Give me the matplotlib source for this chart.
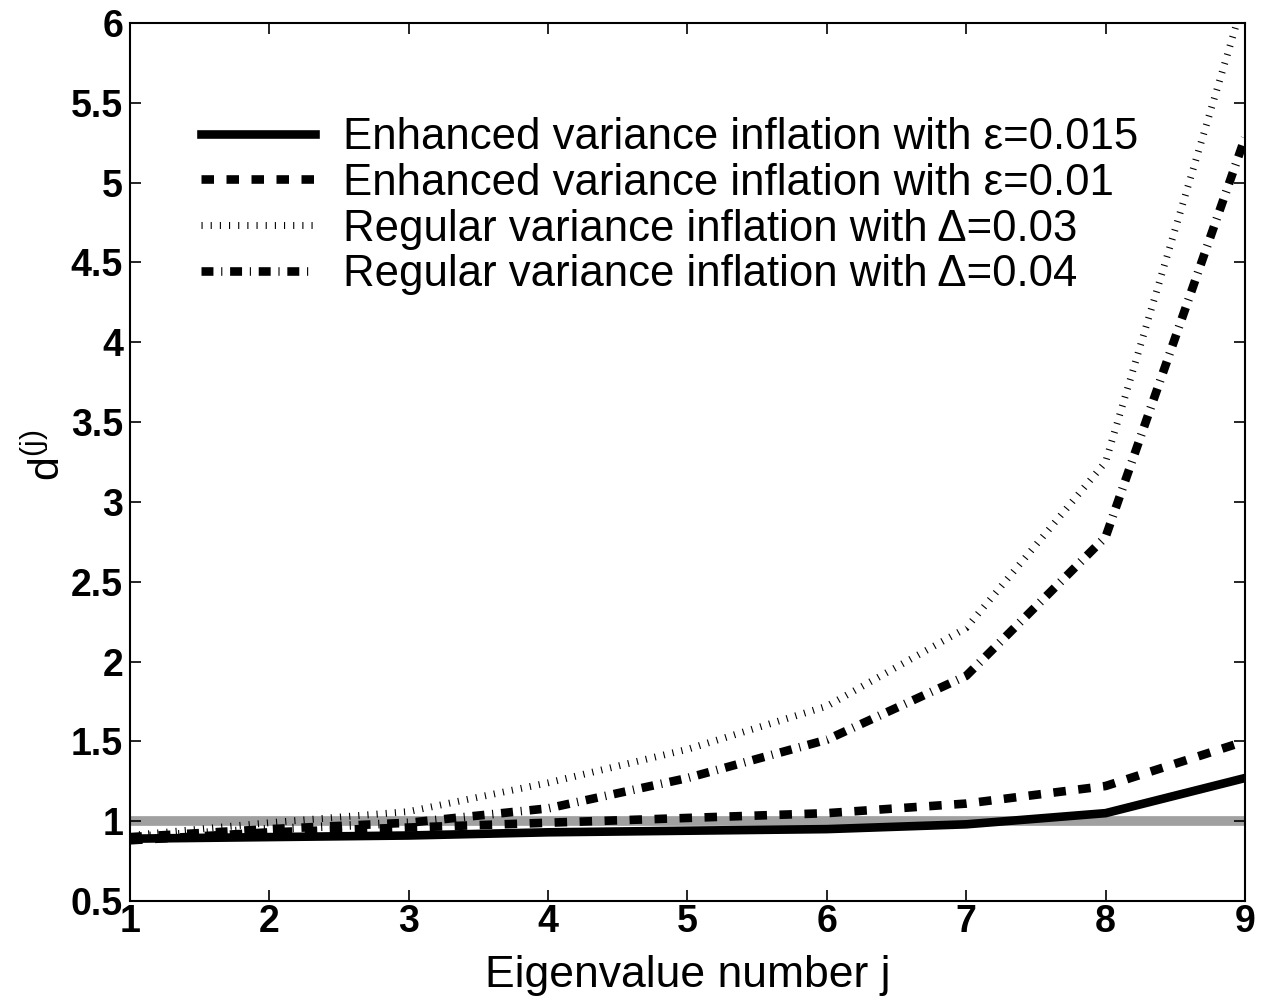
import matplotlib
matplotlib.use('Agg')
import matplotlib.pyplot as plt

plt.rcParams['font.family'] = ['Liberation Sans', 'DejaVu Sans']
plt.rcParams['mathtext.fontset'] = 'custom'
plt.rcParams['mathtext.rm'] = 'Liberation Sans'
plt.rcParams['mathtext.it'] = 'Liberation Sans'
plt.rcParams['lines.scale_dashes'] = False

# data
j = [1, 2, 3, 4, 5, 6, 7, 8, 9]
enh_015 = [0.89, 0.90, 0.91, 0.93, 0.94, 0.95, 0.98, 1.05, 1.27]
enh_010 = [0.88, 0.93, 0.96, 0.99, 1.02, 1.05, 1.11, 1.22, 1.50]
reg_003 = [0.91, 0.99, 1.06, 1.24, 1.45, 1.72, 2.21, 3.25, 6.17]
reg_004 = [0.90, 0.95, 0.99, 1.08, 1.27, 1.51, 1.91, 2.78, 5.28]
labels = ['Enhanced variance inflation with \u03b5=0.015',
          'Enhanced variance inflation with \u03b5=0.01',
          'Regular variance inflation with \u0394=0.03',
          'Regular variance inflation with \u0394=0.04']
yticks = [0.5, 1, 1.5, 2, 2.5, 3, 3.5, 4, 4.5, 5, 5.5, 6]
ytick_labels = ['0.5', '1', '1.5', '2', '2.5', '3', '3.5', '4', '4.5', '5', '5.5', '6']

fig = plt.figure(figsize=(12.67, 10.08), dpi=100)
ax = fig.add_axes([0.1026, 0.1062, 0.88, 0.871])

ax.plot([1, 9], [1, 1], color='#a0a0a0', lw=7, solid_capstyle='butt', zorder=1)

lw = 6.2
ax.plot(j, enh_015, color='k', lw=lw, ls='-', label=labels[0], zorder=3)
ax.plot(j, enh_010, color='k', lw=lw, ls=(0, (9, 9)), dash_capstyle='butt', label=labels[1], zorder=3)
ax.plot(j, reg_003, color='k', lw=5, ls=(0, (0.8, 5.8)), dash_capstyle='butt', label=labels[2], zorder=3)
ax.plot(j, reg_004, color='k', lw=lw, ls=(0, (8.6, 5.6, 0.8, 5.6)), dash_capstyle='butt', label=labels[3], zorder=3)

ax.set_xlim(1, 9)
ax.set_ylim(0.5, 6)
ax.set_xticks(j)
ax.set_xticklabels([str(v) for v in j], fontweight='bold', fontsize=27)
ax.set_yticks(yticks)
ax.set_yticklabels(ytick_labels, fontweight='bold', fontsize=27)
ax.tick_params(direction='in', length=8, width=1.2, top=True, right=True, pad=5)
ax.tick_params(axis='x', pad=2)
for s in ax.spines.values():
    s.set_linewidth(1.5)

ax.set_xlabel('Eigenvalue number j', fontsize=32)
ax.xaxis.set_label_coords(0.5, -0.062)
ax.set_ylabel(r'd$^{(j)}$', fontsize=31)
ax.yaxis.set_label_coords(-0.055, 0.508)

leg = ax.legend(loc='upper left', bbox_to_anchor=(0.1584, 0.884), bbox_transform=fig.transFigure,
                frameon=False, fontsize=31.5, handlelength=2.62, handletextpad=0.64,
                labelspacing=0.11, borderpad=0, borderaxespad=0)

fig.savefig('out.png', dpi=100)
